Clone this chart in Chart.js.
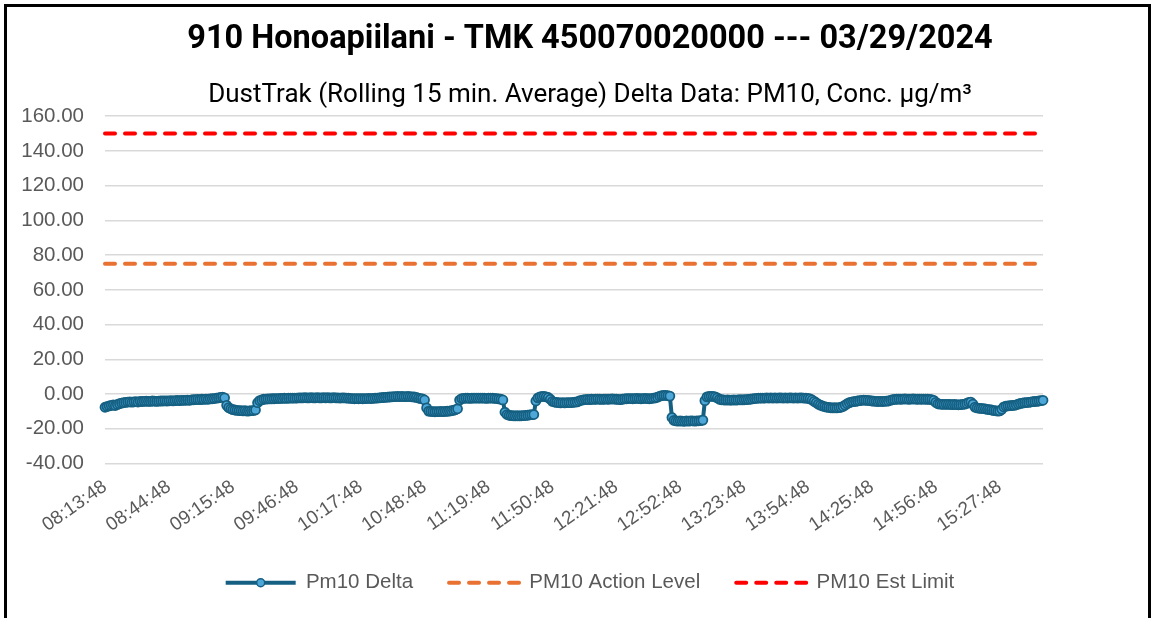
<!DOCTYPE html>
<html>
<head>
<meta charset="utf-8">
<title>910 Honoapiilani - PM10 Delta</title>
<script src="https://cdn.jsdelivr.net/npm/chart.js@4.4.1/dist/chart.umd.min.js"></script>
<style>
  html, body { margin:0; padding:0; background:#fff; overflow:hidden; }
  #frame { position:absolute; left:4px; top:4px; width:1141px; height:700px; border:3px solid #000; border-bottom:none; }
  #wrap { position:absolute; left:8px; top:8px; width:1164px; height:610px; }
</style>
</head>
<body>
<div id="frame"></div>
<div id="wrap"><canvas id="chart"></canvas></div>
<script>
// readings start 08:13:48, one per minute
const startTime = [8, 13, 48];

// Pm10 delta, rolling 15 min average (ug/m3), rows of 10
const pm10Delta = [
  -7.6,-7.2,-6.8,-6.5,-6.3,-6.6,-6.0,-5.6,-5.2,-5.0,
  -4.8,-4.6,-4.5,-4.7,-4.5,-4.4,-4.6,-4.2,-4.3,-4.2,
  -4.1,-4.2,-4.2,-4.0,-4.1,-4.2,-4.1,-4.0,-4.0,-3.9,
  -4.0,-3.9,-3.8,-3.9,-3.8,-3.7,-3.8,-3.7,-3.6,-3.6,
  -3.5,-3.6,-3.4,-3.3,-3.2,-3.1,-3.2,-3.0,-3.1,-2.9,
  -3.0,-2.8,-2.7,-2.6,-2.4,-2.2,-2.0,-1.8,-2.2,-6.5,
  -7.8,-8.5,-9.0,-9.2,-9.4,-9.5,-9.6,-9.7,-9.6,-9.8,
  -9.7,-9.6,-9.5,-9.2,-5.0,-3.8,-3.4,-3.0,-2.9,-2.8,
  -2.8,-2.7,-2.7,-2.6,-2.6,-2.5,-2.5,-2.4,-2.5,-2.4,
  -2.4,-2.3,-2.4,-2.3,-2.2,-2.2,-2.2,-2.1,-2.2,-2.2,
  -2.1,-2.2,-2.2,-2.1,-2.2,-2.2,-2.1,-2.2,-2.1,-2.2,
  -2.2,-2.1,-2.2,-2.2,-2.3,-2.2,-2.2,-2.3,-2.4,-2.5,
  -2.6,-2.7,-2.6,-2.7,-2.6,-2.7,-2.6,-2.6,-2.5,-2.6,
  -2.5,-2.4,-2.3,-2.2,-2.1,-2.0,-1.9,-1.8,-1.7,-1.6,
  -1.5,-1.5,-1.4,-1.5,-1.4,-1.5,-1.5,-1.4,-1.5,-1.6,
  -1.7,-1.9,-2.3,-2.6,-2.8,-3.4,-8.0,-9.8,-10.0,-10.1,
  -10.2,-10.1,-10.1,-10.0,-10.1,-10.0,-9.9,-9.8,-9.6,-9.4,
  -9.0,-8.5,-3.5,-2.6,-2.5,-2.4,-2.4,-2.5,-2.4,-2.4,
  -2.3,-2.4,-2.4,-2.3,-2.4,-2.5,-2.4,-2.3,-2.4,-2.5,
  -2.6,-2.8,-3.0,-3.4,-10.5,-11.8,-12.2,-12.4,-12.5,-12.6,
  -12.5,-12.6,-12.5,-12.4,-12.3,-12.2,-12.0,-11.9,-11.8,-4.0,
  -2.2,-1.6,-1.4,-1.3,-1.6,-2.0,-3.0,-4.2,-4.6,-4.8,
  -5.0,-5.1,-5.0,-5.1,-5.0,-4.9,-5.0,-4.8,-4.7,-4.5,
  -4.0,-3.6,-3.4,-3.2,-3.1,-3.2,-3.0,-3.1,-3.0,-2.9,
  -3.0,-3.1,-3.0,-2.9,-3.0,-2.9,-2.8,-2.9,-3.0,-3.1,
  -3.2,-3.0,-2.8,-2.7,-2.6,-2.6,-2.7,-2.6,-2.5,-2.6,
  -2.7,-2.6,-2.5,-2.6,-2.7,-2.6,-2.4,-2.2,-1.8,-1.3,
  -0.9,-0.8,-0.8,-0.9,-1.2,-13.5,-15.2,-15.5,-15.6,-15.5,
  -15.6,-15.7,-15.5,-15.6,-15.5,-15.4,-15.6,-15.5,-15.4,-15.3,
  -15.0,-3.8,-1.6,-1.4,-1.3,-1.4,-1.6,-2.2,-3.0,-3.3,
  -3.4,-3.5,-3.4,-3.5,-3.5,-3.4,-3.5,-3.4,-3.3,-3.4,
  -3.3,-3.2,-3.1,-3.0,-2.8,-2.6,-2.5,-2.4,-2.3,-2.4,
  -2.3,-2.2,-2.3,-2.2,-2.3,-2.2,-2.3,-2.2,-2.2,-2.3,
  -2.2,-2.3,-2.2,-2.2,-2.3,-2.2,-2.3,-2.2,-2.2,-2.3,
  -2.4,-2.5,-2.8,-3.4,-4.2,-5.0,-5.8,-6.4,-6.9,-7.2,
  -7.5,-7.7,-7.9,-8.0,-7.9,-8.0,-7.8,-7.6,-7.2,-6.4,
  -5.6,-5.0,-4.6,-4.4,-4.2,-4.0,-3.8,-3.6,-3.5,-3.6,
  -3.7,-3.8,-4.0,-4.1,-4.2,-4.3,-4.2,-4.3,-4.2,-4.1,
  -4.0,-3.6,-3.3,-3.1,-3.0,-2.9,-3.0,-2.9,-2.8,-2.9,
  -3.0,-2.9,-2.8,-2.9,-3.0,-2.9,-3.0,-2.9,-3.0,-3.0,
  -3.1,-3.2,-3.6,-4.8,-5.6,-5.8,-5.9,-6.0,-5.9,-6.0,
  -6.0,-6.1,-6.0,-6.1,-6.2,-6.1,-6.0,-5.8,-5.4,-4.8,
  -4.6,-5.8,-7.5,-8.0,-8.2,-8.3,-8.4,-8.6,-8.8,-9.0,
  -9.2,-9.5,-9.6,-9.8,-9.7,-8.8,-7.4,-7.0,-6.8,-6.7,
  -6.6,-6.5,-6.2,-5.8,-5.4,-5.2,-5.0,-4.9,-4.8,-4.6,
  -4.4,-4.3,-4.2,-4.0,-3.8,-3.6
];

const actionLevel = 75;
const estLimit = 150;

// axis labels that are actually shown
const tickLabels = ['08:13:48','08:44:48','09:15:48','09:46:48','10:17:48','10:48:48','11:19:48',
  '11:50:48','12:21:48','12:52:48','13:23:48','13:54:48','14:25:48','14:56:48','15:27:48'];
const yTicks = [-40, -20, 0, 20, 40, 60, 80, 100, 120, 140, 160];

const pad2 = n => String(n).padStart(2, '0');
const timeLabels = pm10Delta.map((_, i) => {
  const s = startTime[0]*3600 + startTime[1]*60 + startTime[2] + i*60;
  return `${pad2(Math.floor(s/3600))}:${pad2(Math.floor(s/60)%60)}:${pad2(s%60)}`;
});
const firstT = timeLabels[0], lastT = timeLabels[timeLabels.length-1];

const GRAY = '#595959';
const TEAL = '#156082';
const MARKER = '#4ea7d9';

// put the round marker in the middle of the Pm10 Delta legend line
const legendMarker = {
  id: 'legendMarker',
  afterDraw(chart) {
    const lg = chart.legend;
    if (!lg || !lg.legendHitBoxes || !lg.legendHitBoxes.length) return;
    const b = lg.legendHitBoxes[0];
    const w = lg.options.labels.pointStyleWidth;
    const ctx = chart.ctx;
    ctx.save();
    ctx.beginPath();
    ctx.arc(b.left + w/2, b.top + b.height/2, 4, 0, Math.PI*2);
    ctx.fillStyle = MARKER; ctx.strokeStyle = TEAL; ctx.lineWidth = 1.5;
    ctx.fill(); ctx.stroke();
    ctx.restore();
  }
};

new Chart(document.getElementById('chart'), {
  type: 'line',
  data: {
    labels: timeLabels,
    datasets: [
      { label:'Pm10 Delta', data:pm10Delta, borderColor:TEAL, borderWidth:4, tension:0,
        pointRadius:4.5, pointBackgroundColor:MARKER, pointBorderColor:TEAL, pointBorderWidth:1.8 },
      { label:'PM10 Action Level', data:[{x:firstT,y:actionLevel},{x:lastT,y:actionLevel}],
        borderColor:'#E97132', backgroundColor:'#E97132', borderWidth:4, borderDash:[10,10], borderCapStyle:'round', pointRadius:0 },
      { label:'PM10 Est Limit', data:[{x:firstT,y:estLimit},{x:lastT,y:estLimit}],
        borderColor:'#FF0000', backgroundColor:'#FF0000', borderWidth:4, borderDash:[10,10], borderCapStyle:'round', pointRadius:0 }
    ]
  },
  options: {
    responsive:true, maintainAspectRatio:false, animation:false,
    layout:{ padding:{ bottom:15 } },
    scales: {
      x: {
        grid:{display:false}, border:{display:false},
        afterFit: s => { s.height = 73; },
        ticks:{ autoSkip:false, minRotation:35, maxRotation:35, padding:4, color:GRAY,
          font:{family:'Liberation Sans', size:19},
          callback:(v, i) => tickLabels.includes(timeLabels[i]) ? timeLabels[i] : null }
      },
      y: {
        min:-40, max:160,
        afterFit: s => { s.width = 97; },
        afterBuildTicks: s => { s.ticks = yTicks.map(v => ({value:v})); },
        grid:{ color:'#d9d9d9', lineWidth:1.5, drawTicks:false }, border:{display:false},
        ticks:{ padding:21, color:GRAY, font:{family:'Liberation Sans', size:20.5}, callback:v => v.toFixed(2) }
      },
      yRight: {
        position:'right', display:true,
        afterFit: s => { s.width = 129; },
        grid:{display:false}, border:{display:false}, ticks:{display:false}
      }
    },
    plugins: {
      title:{ display:true, text:'910 Honoapiilani - TMK 450070020000 --- 03/29/2024', color:'#000',
        font:{family:'Roboto', size:32.5, weight:'bold'}, padding:{top:12.5, bottom:8} },
      subtitle:{ display:true, text:'DustTrak (Rolling 15 min. Average) Delta Data: PM10, Conc. µg/m³', color:'#000',
        font:{family:'Roboto', size:26}, padding:{top:12, bottom:5.5} },
      legend:{ position:'bottom',
        labels:{ usePointStyle:true, pointStyleWidth:70, padding:36, color:GRAY,
          font:{family:'Liberation Sans', size:20.5},
          generateLabels: chart => {
            const items = Chart.defaults.plugins.legend.labels.generateLabels(chart);
            items.forEach(it => {
              const ds = chart.data.datasets[it.datasetIndex];
              it.pointStyle = 'line';
              it.strokeStyle = ds.borderColor;
              it.lineWidth = ds.borderWidth;
              it.lineDash = ds.borderDash || [];
              it.lineCap = ds.borderCapStyle || 'butt';
            });
            return items;
          } } },
      tooltip:{enabled:false}
    }
  },
  plugins:[legendMarker]
});
</script>
</body>
</html>
